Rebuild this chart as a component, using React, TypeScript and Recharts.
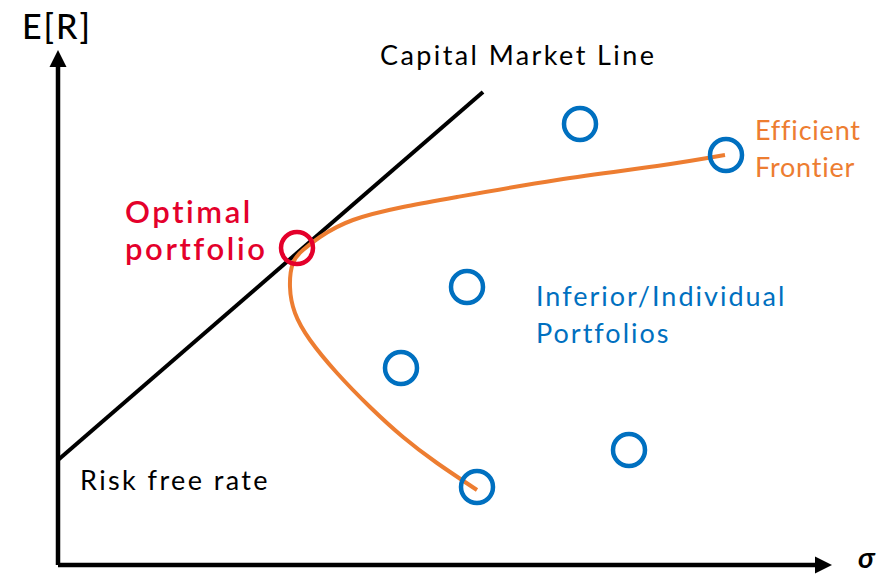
import React from 'react';
import { ComposedChart, Scatter, XAxis, YAxis } from 'recharts';

// axis geometry in data units (sigma, E[R])
const sigmaAxis = [{ x: 0, y: 0 }, { x: 38, y: 0 }];
const returnAxis = [{ x: 0, y: 0 }, { x: 0, y: 25.1 }];
const arrowTips = [
  { x: 38.7, y: 0, dir: 'right' },
  { x: 0, y: 25.75, dir: 'up' },
];

const capitalMarketLine = [{ x: 0, y: 5.25 }, { x: 21.25, y: 23.65 }];

const efficientFrontier = [
  { x: 20.95, y: 3.75 },
  { x: 18.95, y: 5.1 },
  { x: 17.25, y: 6.4 },
  { x: 15.6, y: 7.9 },
  { x: 13.95, y: 9.6 },
  { x: 12.6, y: 11.25 },
  { x: 11.85, y: 12.6 },
  { x: 11.6, y: 13.9 },
  { x: 11.75, y: 15.1 },
  { x: 12.25, y: 15.75 },
  { x: 13.1, y: 16.4 },
  { x: 14.75, y: 17.25 },
  { x: 17.25, y: 17.9 },
  { x: 19.95, y: 18.4 },
  { x: 24.95, y: 19.25 },
  { x: 29.95, y: 19.95 },
  { x: 33.35, y: 20.5 },
];

const individualPortfolios = [
  { x: 26.1, y: 22.05 },
  { x: 33.4, y: 20.5 },
  { x: 20.45, y: 13.9 },
  { x: 17.15, y: 9.85 },
  { x: 28.55, y: 5.75 },
  { x: 20.95, y: 3.9 },
];

const optimalPortfolio = [{ x: 11.95, y: 15.85 }];

const labels = [
  { id: 'er', x: -1.8, y: 26.3, lines: ['E[R]'] },
  { id: 'cml', x: 16.1, y: 25.0, lines: ['Capital Market Line'] },
  { id: 'ef', x: 34.85, y: 21.25, lines: ['Efficient', 'Frontier'] },
  { id: 'opt', x: 3.35, y: 17.1, lines: ['Optimal', 'portfolio'] },
  { id: 'inf', x: 23.9, y: 12.95, lines: ['Inferior/Individual', 'Portfolios'] },
  { id: 'rf', x: 1.1, y: 3.75, lines: ['Risk free rate'] },
  { id: 'sigma', x: 40.0, y: -0.15, lines: ['σ'] },
];

const BLACK = '#000000';
const ORANGE = '#ED7D31';
const BLUE = '#0070C0';
const RED = '#E4002B';
const FONT = "Lato, 'Noto Sans', sans-serif";

const labelStyles: Record<string, any> = {
  er: { size: 34, color: BLACK, weight: 500, style: 'normal', spacing: 2 },
  cml: { size: 27, color: BLACK, weight: 400, style: 'normal', spacing: 2.4 },
  ef: { size: 27, color: ORANGE, weight: 400, style: 'normal', spacing: 0.8 },
  opt: { size: 31, color: RED, weight: 600, style: 'normal', spacing: 2.6 },
  inf: { size: 27, color: BLUE, weight: 400, style: 'normal', spacing: 2.0 },
  rf: { size: 27, color: BLACK, weight: 400, style: 'normal', spacing: 2.4 },
  sigma: { size: 29, color: BLACK, weight: 700, style: 'italic', spacing: 0 },
};

const LINE_GAP = 37;

const Empty = () => <g />;

const Ring = (color: string) => (props: any) => {
  const { cx, cy } = props;
  if (cx == null || cy == null) return <g />;
  return <circle cx={cx} cy={cy} r={16} fill="none" stroke={color} strokeWidth={4.5} />;
};

const Arrow = (props: any) => {
  const { cx, cy, payload } = props;
  if (cx == null || cy == null) return <g />;
  const L = 17;
  const H = 8.5;
  const pts =
    payload.dir === 'up'
      ? `${cx},${cy} ${cx - H},${cy + L} ${cx + H},${cy + L}`
      : `${cx},${cy} ${cx - L},${cy - H} ${cx - L},${cy + H}`;
  return <polygon points={pts} fill={BLACK} />;
};

const Label = (props: any) => {
  const { cx, cy, payload } = props;
  if (cx == null || cy == null) return <g />;
  const s = labelStyles[payload.id];
  return (
    <text
      x={cx}
      y={cy}
      fill={s.color}
      fontSize={s.size}
      fontWeight={s.weight}
      fontStyle={s.style}
      fontFamily={FONT}
      letterSpacing={s.spacing}
    >
      {payload.lines.map((l: string, i: number) => (
        <tspan key={i} x={cx} y={cy + i * LINE_GAP}>
          {l}
        </tspan>
      ))}
    </text>
  );
};

export default function App() {
  return (
    <div style={{ position: 'absolute', left: 0, top: 0, background: '#fff' }}>
      <ComposedChart width={890} height={574} margin={{ top: 0, right: 0, bottom: 0, left: 0 }}>
        <XAxis type="number" dataKey="x" domain={[-2.9, 41.6]} scale="linear" allowDataOverflow hide />
        <YAxis type="number" dataKey="y" domain={[-0.45, 28.25]} scale="linear" allowDataOverflow hide />
        <Scatter
          data={returnAxis}
          line={{ stroke: BLACK, strokeWidth: 4.5 }}
          lineJointType="linear"
          shape={Empty}
          isAnimationActive={false}
        />
        <Scatter
          data={sigmaAxis}
          line={{ stroke: BLACK, strokeWidth: 4.5 }}
          lineJointType="linear"
          shape={Empty}
          isAnimationActive={false}
        />
        <Scatter data={arrowTips} shape={Arrow} isAnimationActive={false} />
        <Scatter
          data={capitalMarketLine}
          line={{ stroke: BLACK, strokeWidth: 4 }}
          lineJointType="linear"
          shape={Empty}
          isAnimationActive={false}
        />
        <Scatter
          data={efficientFrontier}
          line={{ stroke: ORANGE, strokeWidth: 4 }}
          lineJointType="natural"
          shape={Empty}
          isAnimationActive={false}
        />
        <Scatter data={individualPortfolios} shape={Ring(BLUE)} isAnimationActive={false} />
        <Scatter data={optimalPortfolio} shape={Ring(RED)} isAnimationActive={false} />
        <Scatter data={labels} shape={Label} isAnimationActive={false} />
      </ComposedChart>
    </div>
  );
}
